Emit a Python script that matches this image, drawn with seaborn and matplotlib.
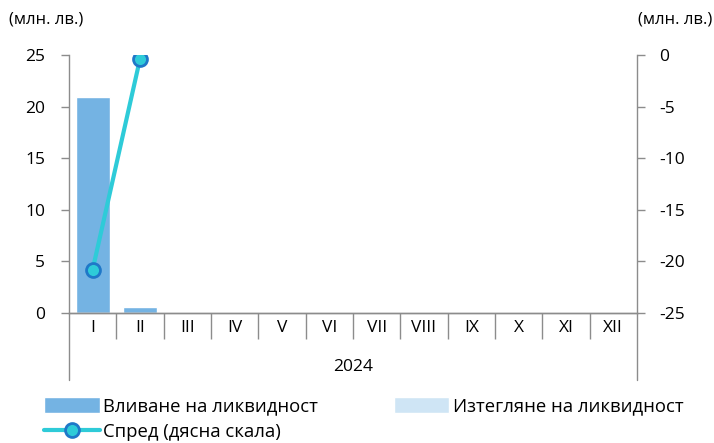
import numpy as np
import pandas as pd
import seaborn as sns
import matplotlib
matplotlib.use('Agg')
from matplotlib import pyplot as plt
from matplotlib.lines import Line2D
from matplotlib.transforms import blended_transform_factory

months = ["I", "II", "III", "IV", "V", "VI", "VII", "VIII", "IX", "X", "XI", "XII"]
inflow = [20.9, 0.6, 0, 0, 0, 0, 0, 0, 0, 0, 0, 0]
withdrawal = [0, 0, 0, 0, 0, 0, 0, 0, 0, 0, 0, 0]
spread = [-20.8, -0.4, np.nan, np.nan, np.nan, np.nan, np.nan, np.nan, np.nan, np.nan, np.nan, np.nan]
year = "2024"

sns.set_style("white")
plt.rcParams['font.family'] = ['Open Sans', 'DejaVu Sans']
plt.rcParams['font.size'] = 12.5
plt.rcParams['text.color'] = 'black'
plt.rcParams['xtick.color'] = 'black'
plt.rcParams['ytick.color'] = 'black'
plt.rcParams['axes.unicode_minus'] = False

grey = "#8c8c8c"
line_kw = dict(color="#2ecbd8", linewidth=3, marker="o", markersize=10,
               markerfacecolor="#2ecbd8", markeredgecolor="#1f78c8", markeredgewidth=2)

fig = plt.figure(figsize=(7.14, 4.43), dpi=100)
ax = fig.add_axes([0.0966, 0.2935, 0.7955, 0.5823])

sns.barplot(x=months, y=inflow, color="#74b3e3", saturation=1, width=0.72,
            label="Вливане на ликвидност", ax=ax)
sns.barplot(x=months, y=withdrawal, color="#cfe5f5", saturation=1, width=0.72,
            label="Изтегляне на ликвидност", ax=ax)
ax.set_ylim(0, 25)
ax.set_yticks([0, 5, 10, 15, 20, 25])

# spread on the right-hand scale
ax2 = ax.twinx()
df = pd.DataFrame({"pos": np.arange(len(months)), "spread": spread})
sns.lineplot(data=df, x="pos", y="spread", ax=ax2, **line_kw)
ax2.set_ylim(-25, 0)
ax2.set_yticks([0, -5, -10, -15, -20, -25])
ax2.set_ylabel("")
ax2.set_xlabel("")
ax.set_xlim(-0.5, len(months) - 0.5)

for a in (ax, ax2):
    for s in a.spines.values():
        s.set_color(grey)
        s.set_linewidth(1)
    a.spines["top"].set_visible(False)
ax2.spines["left"].set_visible(False)
ax.spines["right"].set_visible(False)
ax.tick_params(axis="y", left=True, length=6, color=grey, width=1, labelsize=12.5, pad=11)
ax2.tick_params(axis="y", right=True, length=6, color=grey, width=1, labelsize=12.5, pad=10)

ax.set_xticks(range(len(months)))
ax.set_xticklabels(months)
ax.tick_params(axis="x", length=0, pad=5, labelsize=12.5)
ax.set_xticks(np.arange(0.5, len(months) - 1, 1), minor=True)
ax.tick_params(axis="x", which="minor", bottom=True, length=19, color=grey, width=1)

# outer separators of the multi-level category axis
trans = blended_transform_factory(ax.transData, ax.transAxes)
for xb in (-0.5, len(months) - 0.5):
    ax.add_line(Line2D([xb, xb], [0, -0.26], transform=trans, color=grey,
                       linewidth=1, clip_on=False))
ax.text(0.5, -0.21, year, transform=ax.transAxes, ha="center", va="center", fontsize=12.5)

fig.text(0.012, 0.955, "(млн. лв.)", ha="left", va="center", fontsize=12)
fig.text(0.997, 0.955, "(млн. лв.)", ha="right", va="center", fontsize=12)

h1 = ax.patches[0]
h2 = ax.patches[len(months)]
line_handle = Line2D([], [], **line_kw)
fig.legend([h1, line_handle, h2],
           ["Вливане на ликвидност", "Спред (дясна скала)", "Изтегляне на ликвидност"],
           ncol=2, loc="upper left", bbox_to_anchor=(0.062, 0.103), frameon=False,
           handlelength=3.0, handleheight=0.95, handletextpad=0.2, columnspacing=4.1,
           labelspacing=0.4, borderaxespad=0, borderpad=0, fontsize=13.3)
if ax.get_legend():
    ax.get_legend().remove()
if ax2.get_legend():
    ax2.get_legend().remove()

fig.savefig("out.png", dpi=100)
